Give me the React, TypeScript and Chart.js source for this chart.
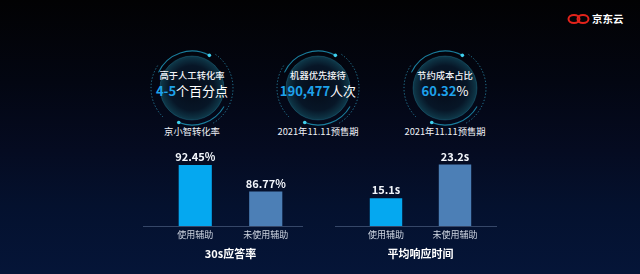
import React, { useEffect, useRef } from "react";
import { Chart, registerables } from "chart.js";

Chart.register(...registerables);

// ---- data ----
const rateCategories = ["使用辅助", "未使用辅助"];
const rateValues = [92.45, 86.77];
const rateLabels = ["92.45%", "86.77%"];
const rateTitle = "30s应答率";

const timeCategories = ["使用辅助", "未使用辅助"];
const timeValues = [15.1, 23.2];
const timeLabels = ["15.1s", "23.2s"];
const timeTitle = "平均响应时间";

const statTitles = ["高于人工转化率", "机器优先接待", "节约成本占比"];
const statNumbers = ["4-5", "190,477", "60.32"];
const statUnits = ["个百分点", "人次", "%"];
const statCaptions = ["京小智转化率", "2021年11.11预售期", "2021年11.11预售期"];

// ---- styles ----
const FONT = "'Noto Sans CJK SC', 'Noto Sans', sans-serif";
const barColors = ["#05a8f0", "#4c7fb6"];
const circleCenters = [192, 318, 445];
const circleCy = 88;

type BarProps = {
  categories: string[];
  values: number[];
  labels: string[];
  title: string;
  yMin: number;
  yMax: number;
  left: number;
  width: number;
  padLeft: number;
  padRight: number;
};

function BarChart(p: BarProps) {
  const ref = useRef<HTMLCanvasElement | null>(null);
  useEffect(() => {
    if (!ref.current) return;
    const valueLabels = {
      id: "valueLabels",
      afterDatasetsDraw(chart: any) {
        const ctx = chart.ctx;
        const meta = chart.getDatasetMeta(0);
        ctx.save();
        ctx.font = `bold 11px ${FONT}`;
        ctx.fillStyle = "#f3f6fb";
        ctx.textAlign = "center";
        ctx.textBaseline = "middle";
        meta.data.forEach((bar: any, i: number) => {
          ctx.fillText(p.labels[i], bar.x, bar.y - 8);
        });
        ctx.restore();
      },
    };
    const baseLine = {
      id: "baseLine",
      beforeDatasetsDraw(chart: any) {
        const ctx = chart.ctx;
        const y = Math.round(chart.chartArea.bottom) + 0.5;
        ctx.save();
        ctx.strokeStyle = "rgba(95,115,150,0.55)";
        ctx.lineWidth = 1;
        ctx.beginPath();
        ctx.moveTo(0, y);
        ctx.lineTo(chart.width, y);
        ctx.stroke();
        ctx.restore();
      },
    };
    const chart = new Chart(ref.current, {
      type: "bar",
      data: {
        labels: p.categories,
        datasets: [
          {
            data: p.values,
            backgroundColor: barColors,
            borderWidth: 0,
            categoryPercentage: 0.94,
            barPercentage: 0.5,
          },
        ],
      },
      options: {
        responsive: false,
        animation: false,
        layout: { padding: { left: p.padLeft, right: p.padRight, top: 10, bottom: 0 } },
        plugins: { legend: { display: false }, tooltip: { enabled: false } },
        scales: {
          y: { display: false, min: p.yMin, max: p.yMax },
          x: {
            grid: { display: false, drawTicks: false },
            border: { display: false },
            ticks: {
              color: "#cfd6e2",
              font: { size: 9, family: FONT },
              padding: 3,
              maxRotation: 0,
              autoSkip: false,
            },
            title: {
              display: true,
              text: p.title,
              color: "#ffffff",
              font: { size: 11, weight: "bold", family: FONT },
              padding: { top: 4, bottom: 6 },
            },
          },
        },
      },
      plugins: [baseLine, valueLabels],
    });
    return () => chart.destroy();
  }, []);
  return (
    <canvas
      ref={ref}
      width={p.width}
      height={126}
      style={{ position: "absolute", left: p.left, top: 140, width: p.width, height: 126 }}
    />
  );
}

function arcPath(cx: number, cy: number, r: number, a0: number, a1: number) {
  const rad = (a: number) => (a * Math.PI) / 180;
  const x0 = cx + r * Math.cos(rad(a0));
  const y0 = cy + r * Math.sin(rad(a0));
  const x1 = cx + r * Math.cos(rad(a1));
  const y1 = cy + r * Math.sin(rad(a1));
  const large = Math.abs(a1 - a0) > 180 ? 1 : 0;
  const sweep = a1 > a0 ? 1 : 0;
  return `M ${x0} ${y0} A ${r} ${r} 0 ${large} ${sweep} ${x1} ${y1}`;
}

function Circles() {
  const rad = (a: number) => (a * Math.PI) / 180;
  return (
    <svg width={640} height={274} style={{ position: "absolute", left: 0, top: 0 }}>
      <defs>
        <radialGradient id="disc" cx="50%" cy="50%" r="50%">
          <stop offset="0%" stopColor="#050b18" />
          <stop offset="70%" stopColor="#071627" />
          <stop offset="90%" stopColor="#0c2d3e" />
          <stop offset="100%" stopColor="#0f3a4b" />
        </radialGradient>
      </defs>
      {circleCenters.map((cx, i) => (
        <g key={i}>
          <circle cx={cx} cy={circleCy} r={32} fill="url(#disc)" />
          <circle cx={cx} cy={circleCy} r={32} fill="none" stroke="rgba(40,140,170,0.3)" strokeWidth={1} />
          <path d={arcPath(cx, circleCy, 37, 205, 298)} fill="none" stroke="#1a7d9c" strokeWidth={1.1} />
          <path d={arcPath(cx, circleCy, 37, 30, 111)} fill="none" stroke="#1a7d9c" strokeWidth={1.1} />
          <circle cx={cx + 37 * Math.cos(rad(298))} cy={circleCy + 37 * Math.sin(rad(298))} r={1.8} fill="#3fd0ee" />
          <circle cx={cx + 37 * Math.cos(rad(111))} cy={circleCy + 37 * Math.sin(rad(111))} r={1.8} fill="#3fd0ee" />
          <path d={arcPath(cx, circleCy, 41, -55, 60)} fill="none" stroke="#2a8cad" strokeWidth={0.9} strokeDasharray="1.2 2" />
          <path d={arcPath(cx, circleCy, 41, 135, 215)} fill="none" stroke="#2a8cad" strokeWidth={0.9} strokeDasharray="1.2 2" />
        </g>
      ))}
      <ellipse cx={574} cy={19} rx={5.5} ry={4} fill="none" stroke="#e3231b" strokeWidth={2} />
      <ellipse cx={583} cy={19} rx={5.5} ry={4} fill="none" stroke="#e3231b" strokeWidth={2} />
    </svg>
  );
}

export default function App() {
  useEffect(() => {
    document.body.style.margin = "0";
  }, []);
  return (
    <div
      style={{
        position: "fixed",
        left: 0,
        top: 0,
        width: 640,
        height: 274,
        overflow: "hidden",
        fontFamily: FONT,
        background:
          "linear-gradient(180deg, #020203 0%, #030612 30%, #050b21 55%, #04112e 75%, #051538 100%)",
      }}
    >
      <Circles />
      <div
        style={{
          position: "absolute",
          left: 592,
          top: 12,
          fontSize: 10.5,
          fontWeight: 700,
          color: "#ffffff",
          lineHeight: "14px",
        }}
      >
        京东云
      </div>
      {circleCenters.map((cx, i) => (
        <React.Fragment key={i}>
          <div
            style={{
              position: "absolute",
              left: cx - 70,
              width: 140,
              top: 68,
              textAlign: "center",
              fontSize: 9.3,
              color: "#f2f4f8",
              lineHeight: "14px",
              fontWeight: 500,
            }}
          >
            {statTitles[i]}
          </div>
          <div
            style={{
              position: "absolute",
              left: cx - 70,
              width: 140,
              top: 82,
              textAlign: "center",
              fontSize: 13,
              lineHeight: "17px",
              color: "#ffffff",
            }}
          >
            <span style={{ color: "#1ea2ea", fontWeight: 700 }}>{statNumbers[i]}</span>
            <span>{statUnits[i]}</span>
          </div>
          <div
            style={{
              position: "absolute",
              left: cx - 70,
              width: 140,
              top: 124,
              textAlign: "center",
              fontSize: 9.3,
              color: "#eef1f6",
              lineHeight: "14px",
            }}
          >
            {statCaptions[i]}
          </div>
        </React.Fragment>
      ))}
      <BarChart
        categories={rateCategories}
        values={rateValues}
        labels={rateLabels}
        title={rateTitle}
        yMin={79.4}
        yMax={95.65}
        left={143}
        width={160}
        padLeft={17}
        padRight={2}
      />
      <BarChart
        categories={timeCategories}
        values={timeValues}
        labels={timeLabels}
        title={timeTitle}
        yMin={8.4}
        yMax={26.7}
        left={335}
        width={162}
        padLeft={16.5}
        padRight={7.5}
      />
    </div>
  );
}
